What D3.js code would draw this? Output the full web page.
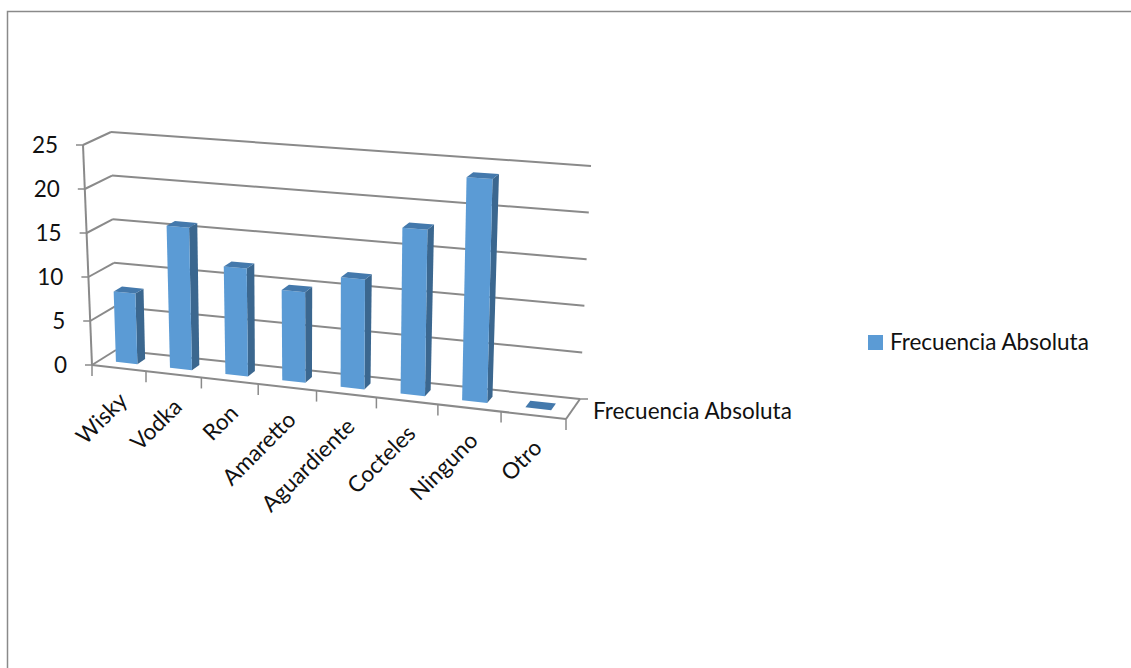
<!DOCTYPE html>
<html lang="es">
<head>
<meta charset="utf-8">
<script src="https://cdn.jsdelivr.net/npm/d3@7/dist/d3.min.js"></script>
<style>
  html, body { margin: 0; padding: 0; background: #fff; }
  svg { display: block; }
  text { font-family: Lato, "Open Sans", sans-serif; font-size: 22.5px; fill: #111; }
</style>
</head>
<body>
<svg id="chart" width="1131" height="668"></svg>
<script>
// Survey results
const categories = ["Wisky", "Vodka", "Ron", "Amaretto", "Aguardiente", "Cocteles", "Ninguno", "Otro"];
const values = [8, 16, 12, 10, 12, 18, 24, 0];
const valueTicks = [0, 5, 10, 15, 20, 25];
const seriesName = "Frecuencia Absoluta";

const colors = { front: "#5b9bd5", top: "#4479ac", side: "#3b678f", grid: "#8a8a8a", text: "#111" };

// Corners of the 3D plot box, as [x, y] on screen.
const box = {
  frontBottomLeft: [92, 365], frontBottomRight: [566, 419],
  backBottomLeft: [116, 350], backBottomRight: [580, 399],
  frontTopLeft: [83, 145], frontTopRight: [573, 181],
  backTopLeft: [111, 132], backTopRight: [591, 166]
};

const svg = d3.select("#chart");
const heightScale = d3.scaleLinear().domain([0, 25]).range([0, 1]);
const categoryScale = d3.scaleBand().domain(categories).range([0, 1]);

// Columns get wider towards the right because that side is nearer the viewer.
const foreshorten = u => 0.9 * u / (1 - 0.1 * u);

const mix = (a, b, t) => [a[0] + (b[0] - a[0]) * t, a[1] + (b[1] - a[1]) * t];

// Maps (across, depth, height), each 0..1, onto the screen.
function project(u, v, h) {
  const s = foreshorten(u);
  const bottomFront = mix(box.frontBottomLeft, box.frontBottomRight, s);
  const bottomBack = mix(box.backBottomLeft, box.backBottomRight, s);
  const topFront = mix(box.frontTopLeft, box.frontTopRight, s);
  const topBack = mix(box.backTopLeft, box.backTopRight, s);
  return mix(mix(bottomFront, bottomBack, v), mix(topFront, topBack, v), h);
}

const path = pts => "M" + pts.map(p => p.join(",")).join("L") + "Z";
const segment = (g, a, b, w = 2) => g.append("line")
  .attr("x1", a[0]).attr("y1", a[1]).attr("x2", b[0]).attr("y2", b[1])
  .attr("stroke", colors.grid).attr("stroke-width", w);

// Chart frame, open on the right and at the bottom
svg.append("path").attr("d", "M7.5,668V11.5H1131")
  .attr("fill", "none").attr("stroke", colors.grid).attr("stroke-width", 1.5);

// Walls and floor
const grid = svg.append("g");
valueTicks.forEach(t => {
  const h = heightScale(t);
  segment(grid, project(0, 0, h), project(0, 1, h));
  segment(grid, project(0, 1, h), project(1, 1, h));
  segment(grid, project(0, 0, h), [project(0, 0, h)[0] - 7, project(0, 0, h)[1]], 1.5);
});
segment(grid, project(0, 0, 0), project(0, 0, 1));
segment(grid, project(0, 0, 0), project(1, 0, 0));
segment(grid, project(1, 0, 0), project(1, 1, 0));
segment(grid, project(1, 1, 0), [project(1, 1, 0)[0] + 8, project(1, 1, 0)[1]], 1.5);

// Category tick marks along the front edge
categories.concat("end").forEach((c, i) => {
  const p = project(i / categories.length, 0, 0);
  segment(grid, p, [p[0], p[1] + 11], 1.5);
});

// Value labels
svg.append("g").selectAll("text").data(valueTicks).join("text")
  .attr("x", d => project(0, 0, heightScale(d))[0] - 25)
  .attr("y", d => project(0, 0, heightScale(d))[1])
  .attr("dy", "0.35em").attr("text-anchor", "end")
  .text(d => d);

// Columns, left to right
const depthNear = 1 / 3, depthFar = 2 / 3, inset = 0.3;
const bars = svg.append("g").selectAll("g")
  .data(categories.map((c, i) => ({ c, v: values[i] })))
  .join("g");

bars.each(function (d) {
  const g = d3.select(this);
  const u0 = categoryScale(d.c) + categoryScale.bandwidth() * inset;
  const u1 = categoryScale(d.c) + categoryScale.bandwidth() * (1 - inset);
  const h = heightScale(d.v);
  if (d.v > 0) {
    g.append("path").attr("fill", colors.side).attr("d", path([
      project(u1, depthNear, 0), project(u1, depthFar, 0),
      project(u1, depthFar, h), project(u1, depthNear, h)]));
    g.append("path").attr("fill", colors.front).attr("d", path([
      project(u0, depthNear, 0), project(u1, depthNear, 0),
      project(u1, depthNear, h), project(u0, depthNear, h)]));
  }
  g.append("path").attr("fill", colors.top).attr("d", path([
    project(u0, depthNear, h), project(u1, depthNear, h),
    project(u1, depthFar, h), project(u0, depthFar, h)]));
});

// Category labels, rotated along the front edge
svg.append("g").selectAll("text").data(categories).join("text")
  .attr("text-anchor", "end")
  .attr("transform", d => {
    const p = project(categoryScale(d) + categoryScale.bandwidth() / 2, 0, 0);
    return `translate(${p[0] + 10},${p[1] + 34}) rotate(-45)`;
  })
  .text(d => d);

// Depth axis label
svg.append("text").attr("x", 593).attr("y", 411).attr("dy", "0.35em").text(seriesName);

// Legend
svg.append("rect").attr("x", 868).attr("y", 335).attr("width", 15).attr("height", 15).attr("fill", colors.front);
svg.append("text").attr("x", 890).attr("y", 342).attr("dy", "0.35em").text(seriesName);
</script>
</body>
</html>
